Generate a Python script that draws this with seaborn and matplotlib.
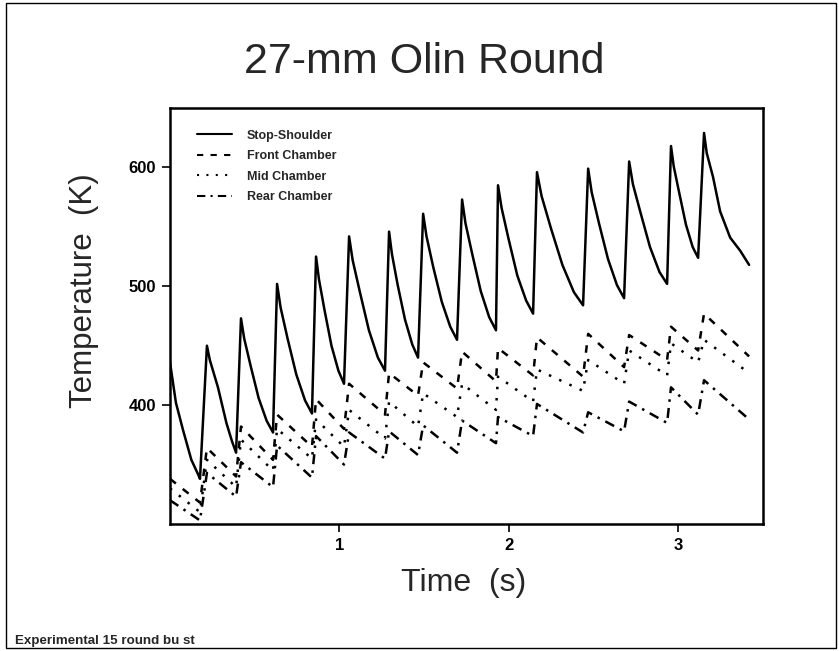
import matplotlib
matplotlib.use("Agg")
import matplotlib.pyplot as plt
from matplotlib.patches import Rectangle
import seaborn as sns
import pandas as pd

# Stop-shoulder trace (time in s, temperature in K)
solid_t = [0.000, 0.035, 0.077, 0.126, 0.165, 0.177,
           0.218, 0.235, 0.283, 0.333, 0.365, 0.390,
           0.419, 0.438, 0.476, 0.523, 0.570, 0.608,
           0.632, 0.653, 0.694, 0.745, 0.797, 0.838,
           0.862, 0.879, 0.912, 0.953, 0.994, 1.027,
           1.057, 1.078, 1.121, 1.174, 1.227, 1.269,
           1.293, 1.310, 1.344, 1.387, 1.430, 1.464,
           1.494, 1.514, 1.554, 1.604, 1.654, 1.694,
           1.724, 1.744, 1.784, 1.834, 1.884, 1.924,
           1.936, 1.957, 1.998, 2.050, 2.102, 2.143,
           2.166, 2.193, 2.248, 2.316, 2.384, 2.438,
           2.468, 2.489, 2.532, 2.585, 2.638, 2.680,
           2.710, 2.732, 2.777, 2.833, 2.889, 2.934,
           2.957, 2.973, 3.005, 3.045, 3.085, 3.117,
           3.152, 3.168, 3.205, 3.247, 3.306, 3.365, 3.418]
solid_T = [436, 402, 379, 354, 342, 338,
           450, 438, 415, 385, 370, 360,
           473, 456, 433, 406, 387, 377,
           502, 482, 456, 426, 404, 393,
           525, 506, 480, 450, 429, 418,
           542, 522, 495, 463, 440, 429,
           546, 527, 501, 472, 451, 440,
           561, 542, 516, 487, 466, 455,
           573, 553, 527, 496, 474, 463,
           585, 566, 540, 509, 488, 477,
           596, 576, 549, 518, 495, 484,
           599, 579, 553, 523, 501, 490,
           605, 586, 562, 533, 512, 502,
           618, 601, 579, 552, 533, 524,
           629, 612, 592, 563, 541, 530, 518]

# chamber traces share one time grid
chamber_t = [0.000, 0.177, 0.218, 0.390, 0.419, 0.608, 0.632, 0.838, 0.862, 1.027,
             1.057, 1.269, 1.293, 1.464, 1.494, 1.694, 1.724, 1.924, 1.936, 2.143,
             2.166, 2.438, 2.468, 2.680, 2.710, 2.934, 2.957, 3.117, 3.152, 3.418]
front_T = [338, 318, 364, 340, 382, 354, 392, 365, 405, 380,
           418, 392, 427, 408, 436, 414, 445, 420, 448, 425,
           457, 424, 460, 432, 459, 438, 466, 446, 477, 441]
mid_T = [330, 310, 354, 331, 371, 345, 380, 355, 388, 365,
         396, 372, 403, 382, 410, 390, 418, 396, 424, 403,
         430, 412, 438, 418, 446, 425, 452, 436, 455, 427]
rear_T = [320, 303, 343, 323, 352, 331, 366, 339, 374, 350,
          377, 355, 378, 358, 383, 360, 387, 368, 390, 374,
          401, 377, 394, 378, 403, 385, 415, 392, 421, 388]

series = ["Stop-Shoulder", "Front Chamber", "Mid Chamber", "Rear Chamber"]

frames = [pd.DataFrame({"time": solid_t, "temp": solid_T, "series": series[0]})]
for name, vals in zip(series[1:], [front_T, mid_T, rear_T]):
    frames.append(pd.DataFrame({"time": chamber_t, "temp": vals, "series": name}))
df = pd.concat(frames, ignore_index=True)

sns.set_theme(style="white")
plt.rcParams["font.family"] = ["Liberation Sans", "DejaVu Sans"]

fig = plt.figure(figsize=(8.39, 6.51), dpi=100)
# axes box: x 170..763 px, y 108..524 px
ax = fig.add_axes([170 / 839, 127 / 651, 593 / 839, 416 / 651])

dash_map = {
    "Stop-Shoulder": "",
    "Front Chamber": (3, 3.5),
    "Mid Chamber": (1, 3.5),
    "Rear Chamber": (4, 2.5, 1, 2.5),
}
sns.lineplot(data=df, x="time", y="temp", hue="series", style="series",
             hue_order=series, style_order=series,
             palette={s: "black" for s in series}, dashes=dash_map,
             estimator=None, sort=False, linewidth=1.8, ax=ax)

handles, labels = ax.get_legend_handles_labels()
leg = ax.legend(handles, labels, loc="upper left", bbox_to_anchor=(0.045, 0.948),
                frameon=False, prop={"weight": "bold", "size": 9},
                handlelength=2.8, handletextpad=1.2, labelspacing=0.68,
                borderpad=0, borderaxespad=0)
for ln in leg.get_lines():
    ln.set_linewidth(1.5)

ax.set_xlim(0, 3.5)
ax.set_ylim(300, 650)
ax.set_xticks([1, 2, 3])
ax.set_yticks([400, 500, 600])
ax.set_xlabel("")
ax.set_ylabel("")
ax.tick_params(direction="out", length=6, width=1.2, colors="black",
               labelsize=12, left=True, bottom=True, pad=4)
for lab in ax.get_xticklabels() + ax.get_yticklabels():
    lab.set_fontweight("bold")
for sp in ax.spines.values():
    sp.set_visible(True)
    sp.set_color("black")
    sp.set_linewidth(1.8)

fig.text(424 / 839, 1 - 62 / 651, "27-mm Olin Round", ha="center", va="center", fontsize=31)
fig.text(84 / 839, 1 - 291 / 651, "Temperature  (K)", rotation=90,
         ha="center", va="center", fontsize=22.5)
fig.text(464 / 839, 1 - 583 / 651, "Time  (s)", ha="center", va="center", fontsize=23)
fig.text(15 / 839, 1 - 641 / 651, "Experimental 15 round bu st",
         ha="left", va="center", fontsize=9.6, fontweight="bold")

fig.patches.append(Rectangle((6 / 839, 3 / 651), 830 / 839, 645 / 651,
                             transform=fig.transFigure, fill=False,
                             lw=1.0, ec="black"))

fig.savefig("out.png", dpi=100)
